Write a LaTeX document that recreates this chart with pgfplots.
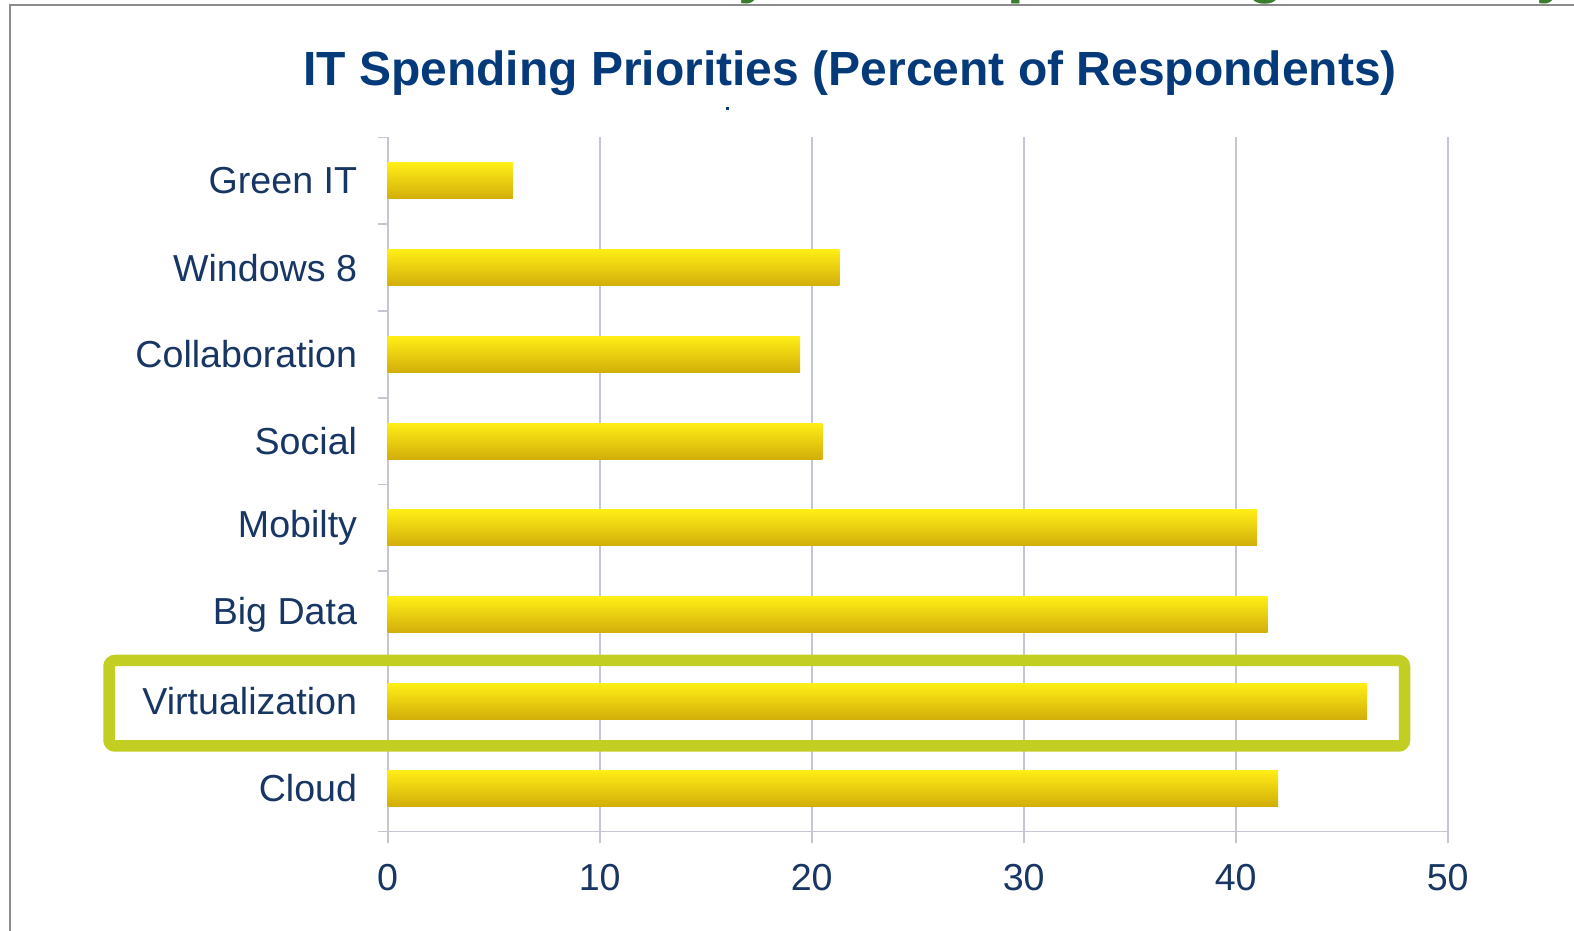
\documentclass[border=0pt]{standalone}
\usepackage{pgfplots}
\pgfplotsset{compat=1.18}
\usepackage{fontspec}
\setmainfont{Liberation Sans}
\definecolor{navy}{RGB}{24,54,100}
\definecolor{titleblue}{RGB}{4,58,122}
\definecolor{gridgray}{RGB}{196,198,210}
\definecolor{framegray}{RGB}{140,140,140}
\definecolor{hlgreen}{RGB}{194,206,34}
\definecolor{slidegreen}{RGB}{58,125,46}
\definecolor{bartop}{RGB}{255,238,22}
\definecolor{barbot}{RGB}{210,174,10}

\pgfplotsset{onebar/.style={draw=none, top color=bartop, bottom color=barbot, forget plot}}

\begin{document}
\begin{tikzpicture}[x=1pt,y=1pt]
% slide frame
\draw[framegray, line width=1pt] (5,0) -- (5,463) -- (787,463);
% descenders of the slide heading, cut off by the page edge
\begin{scope}
\clip (5,463.5) rectangle (787,465.5);
\foreach \xx/\ch in {377.5/y, 513/p, 633/g, 776.5/y}
  \node[anchor=base, font=\fontsize{30}{34}\selectfont\bfseries, text=slidegreen, inner sep=0pt]
    at (\xx,469.5) {\ch};
\end{scope}
% title
\node[anchor=base, inner sep=0pt, font=\fontsize{24}{28}\selectfont\bfseries, text=titleblue]
  at (425,422.5) {IT Spending Priorities (Percent of Respondents)};
\fill[titleblue] (363,410.3) rectangle ++(1.6,1.6);

\begin{axis}[
  at={(193.85pt,49.75pt)}, anchor=south west,
  scale only axis, width=530pt, height=347pt,
  xmin=0, xmax=50, ymin=-0.5, ymax=7.5,
  xbar, bar width=18pt, bar shift=0pt,
  axis x line*=bottom, axis y line*=left,
  axis line style={gridgray, line width=0.8pt, -},
  xtick={0,10,...,50},
  ytick={0,...,7},
  yticklabels={Cloud,Virtualization,Big Data,Mobilty,Social,Collaboration,Windows 8,Green IT},
  minor ytick={-0.5,0.5,...,7.5},
  tick align=outside,
  major tick length=6pt, minor tick length=5pt,
  major y tick style={draw=none},
  tick style={gridgray, line width=0.8pt},
  xmajorgrids, grid style={gridgray, line width=0.8pt},
  /pgf/number format/assume math mode=true,
  ticklabel style={font=\fontsize{18.8}{22}\selectfont, text=navy},
  xticklabel style={yshift=-7pt},
  yticklabel style={xshift=-5.8pt},
]
% one plot per bar so that each bar gets its own gradient
\addplot[onebar] coordinates {(42.0,0)};  % Cloud
\addplot[onebar] coordinates {(46.2,1)};  % Virtualization
\addplot[onebar] coordinates {(41.5,2)};  % Big Data
\addplot[onebar] coordinates {(41.0,3)};  % Mobilty
\addplot[onebar] coordinates {(20.5,4)};  % Social
\addplot[onebar] coordinates {(19.45,5)}; % Collaboration
\addplot[onebar] coordinates {(21.3,6)};  % Windows 8
\addplot[onebar] coordinates {(5.9,7)};   % Green IT
\end{axis}
% highlight around Virtualization
\draw[hlgreen, line width=5.75pt, rounded corners=3pt] (54.5,92.5) rectangle (702.25,135.25);
\pgfresetboundingbox
\path[use as bounding box] (0,0) rectangle (787,465.5);
\end{tikzpicture}
\end{document}
